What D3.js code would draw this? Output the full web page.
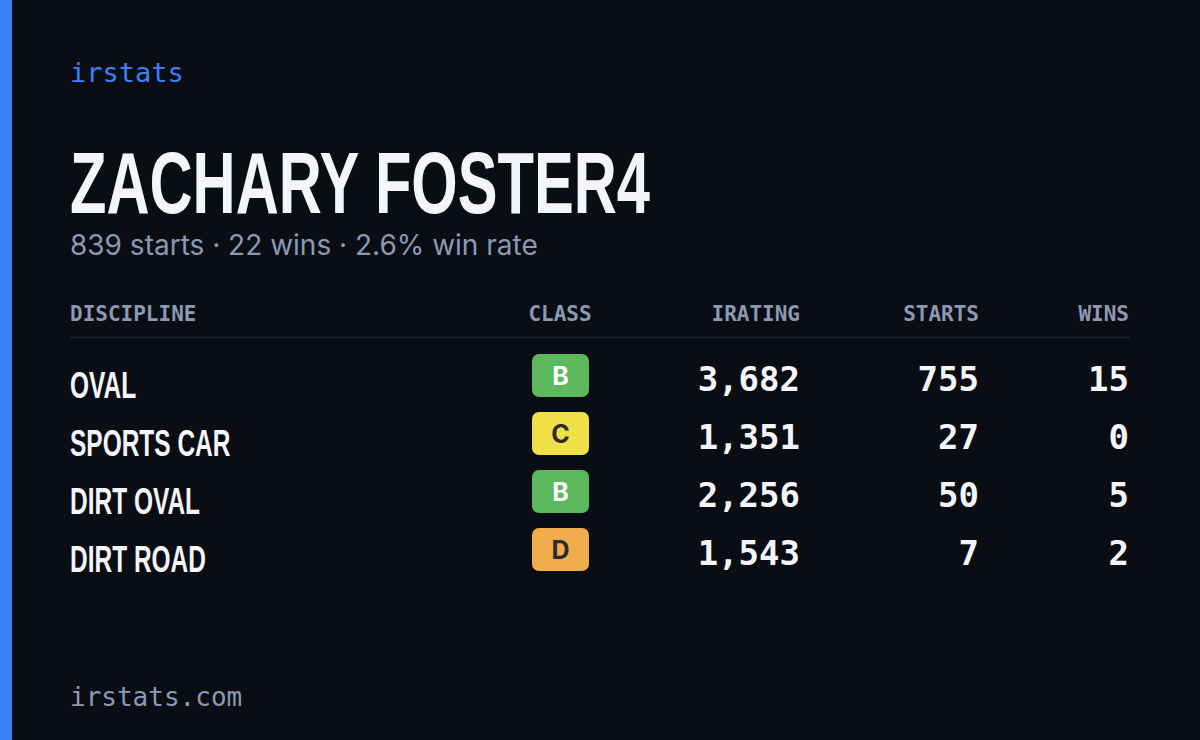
<!DOCTYPE html>
<html><head><meta charset="utf-8">
<script src="https://cdn.jsdelivr.net/npm/d3@7"></script>
<style>body{margin:0;background:#0a0d14}</style>
</head><body>
<svg id="c" width="1200" height="740"></svg>
<script>
const disciplines = ["OVAL", "SPORTS CAR", "DIRT OVAL", "DIRT ROAD"];
const classes = ["B", "C", "B", "D"];
const iratings = [3682, 1351, 2256, 1543];
const starts = [755, 27, 50, 7];
const wins = [15, 0, 5, 2];
const columns = ["DISCIPLINE", "CLASS", "IRATING", "STARTS", "WINS"];

const classColor = {B: "#5cb85c", C: "#f0e04a", D: "#efad4b"};
const classText = {B: "#ffffff", C: "#2b2b2b", D: "#2b2b2b"};
const mono = "'DejaVu Sans Mono', monospace";
const narrow = "'Liberation Sans Narrow', 'Liberation Sans', sans-serif";
const muted = "#8a9ab3";

const svg = d3.select("#c");
svg.append("rect").attr("width", 1200).attr("height", 740).attr("fill", "#0a0d14");
svg.append("rect").attr("width", 12).attr("height", 740).attr("fill", "#3b82f6");

svg.append("text").attr("x", 70).attr("y", 82).text("irstats")
  .attr("font-family", mono).attr("font-size", 27).attr("fill", "#3b82f6");

svg.append("text").attr("x", 70).attr("y", 213).text("ZACHARY FOSTER4")
  .attr("font-family", narrow).attr("font-weight", "bold").attr("font-size", 88)
  .attr("fill", "#f4f5f8").attr("textLength", 580).attr("lengthAdjust", "spacingAndGlyphs");

const totStarts = d3.sum(starts), totWins = d3.sum(wins);
svg.append("text").attr("x", 70).attr("y", 255)
  .text(`${totStarts} starts · ${totWins} wins · ${d3.format(".1f")(totWins / totStarts * 100)}% win rate`)
  .attr("font-family", "Inter, 'Noto Sans', sans-serif").attr("font-size", 28).attr("fill", muted);

// column positions: x and anchor
const colX = d3.scaleOrdinal().domain(columns).range([70, 560, 800, 979, 1129]);
const colAnchor = ["start", "middle", "end", "end", "end"];

svg.selectAll("text.hdr").data(columns).join("text").attr("class", "hdr")
  .attr("x", d => colX(d)).attr("y", 321).text(d => d)
  .attr("text-anchor", (d, i) => colAnchor[i])
  .attr("font-family", mono).attr("font-weight", "bold").attr("font-size", 21).attr("fill", muted);

svg.append("line").attr("x1", 70).attr("x2", 1130).attr("y1", 337.5).attr("y2", 337.5)
  .attr("stroke", "#1c2130").attr("stroke-width", 2);

const y = d3.scaleBand().domain(d3.range(disciplines.length)).range([346, 578]);
const rows = svg.selectAll("g.row").data(disciplines).join("g").attr("class", "row")
  .attr("transform", (d, i) => `translate(0,${y(i)})`);

rows.append("text").attr("x", 0).attr("y", 0).text(d => d)
  .attr("font-family", narrow).attr("font-weight", "bold").attr("font-size", 36)
  .attr("fill", "#f4f5f8").attr("transform", "translate(70,52) scale(0.68,1)");

rows.append("rect").attr("x", 532).attr("y", 8).attr("width", 57).attr("height", 43).attr("rx", 7)
  .attr("fill", (d, i) => classColor[classes[i]]);
rows.append("text").attr("x", 560.5).attr("y", 39).attr("text-anchor", "middle")
  .text((d, i) => classes[i])
  .attr("font-family", "Inter, sans-serif").attr("font-weight", "bold").attr("font-size", 25)
  .attr("fill", (d, i) => classText[classes[i]]);

const numCols = [[iratings, 800], [starts, 979], [wins, 1129]];
numCols.forEach(([vals, x]) => {
  rows.append("text").attr("x", x).attr("y", 45).attr("text-anchor", "end")
    .text((d, i) => d3.format(",")(vals[i]))
    .attr("font-family", mono).attr("font-weight", "bold").attr("font-size", 34).attr("fill", "#f4f5f8");
});

svg.append("text").attr("x", 70).attr("y", 706).text("irstats.com")
  .attr("font-family", mono).attr("font-size", 26).attr("fill", muted);
</script>
</body></html>
